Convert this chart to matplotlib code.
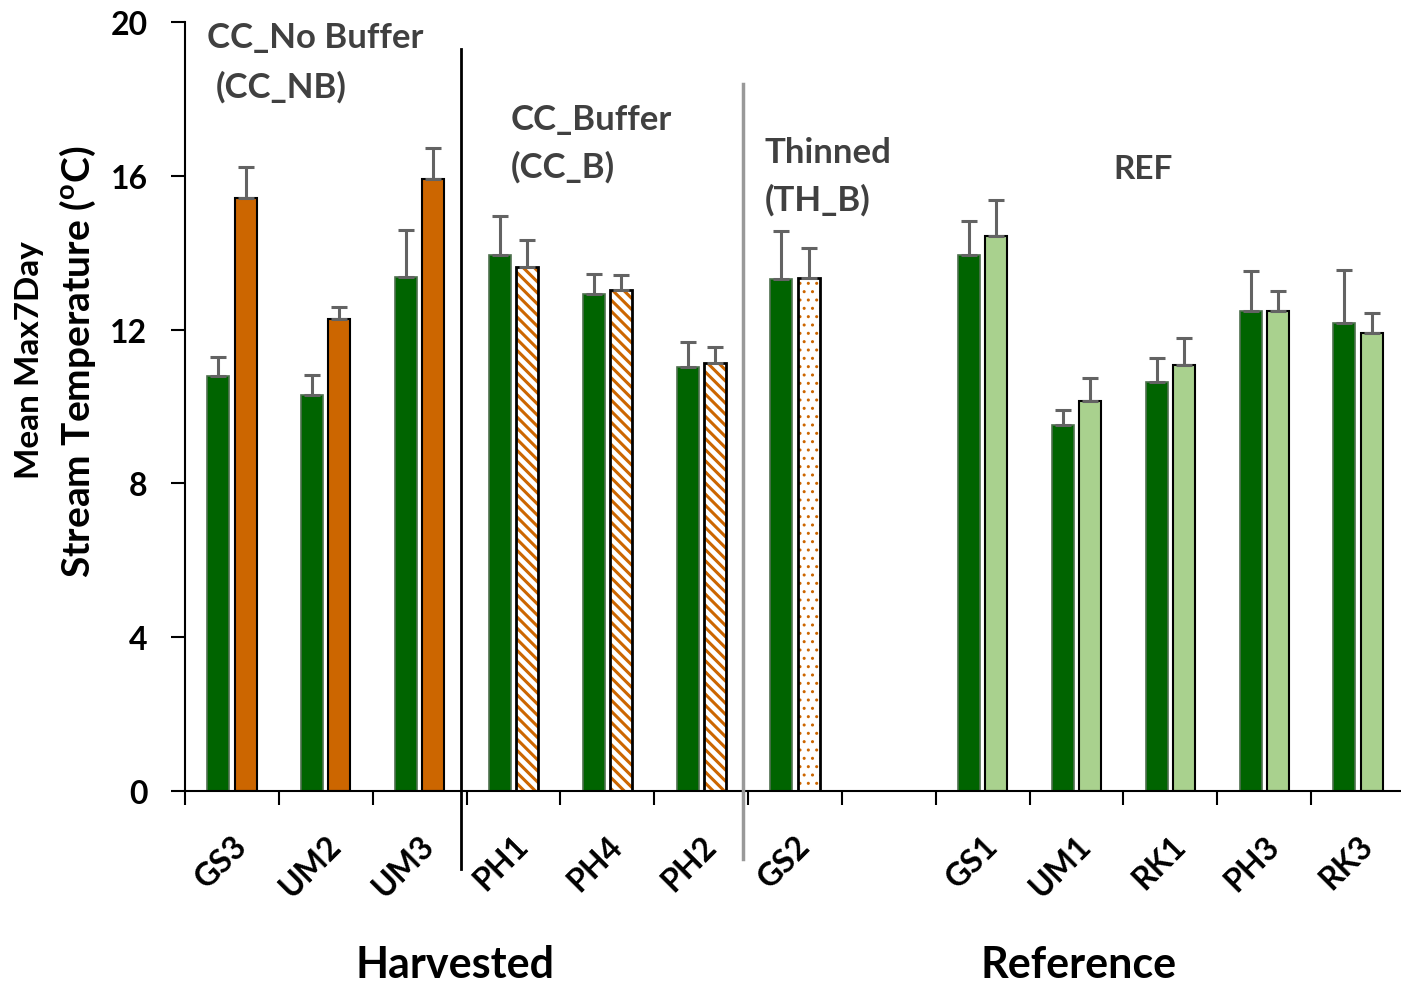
import numpy as np
import matplotlib
matplotlib.use("Agg")
import matplotlib.pyplot as plt

plt.rcParams['font.family'] = ['Lato', 'DejaVu Sans']
plt.rcParams['font.weight'] = 'bold'
plt.rcParams['mathtext.fontset'] = 'custom'
plt.rcParams['mathtext.rm'] = 'Lato:bold'
plt.rcParams['mathtext.bf'] = 'Lato:bold'

# Data
sites = ["GS3", "UM2", "UM3", "PH1", "PH4", "PH2", "GS2", "", "GS1", "UM1", "RK1", "PH3", "RK3"]
pre_vals = [10.79, 10.30, 13.37, 13.94, 12.93, 11.03, 13.32, np.nan, 13.94, 9.52, 10.64, 12.48, 12.17]
pre_err = [0.50, 0.52, 1.22, 1.01, 0.52, 0.65, 1.24, np.nan, 0.88, 0.39, 0.62, 1.04, 1.38]
post_vals = [15.42, 12.28, 15.92, 13.63, 13.03, 11.13, 13.34, np.nan, 14.43, 10.14, 11.08, 12.48, 11.91]
post_err = [0.81, 0.31, 0.80, 0.70, 0.39, 0.42, 0.78, np.nan, 0.94, 0.60, 0.70, 0.52, 0.52]
post_type = ["nb", "nb", "nb", "b", "b", "b", "th", "", "ref", "ref", "ref", "ref", "ref"]

yticks = [0, 4, 8, 12, 16, 20]

DARK = "#006400"
ORANGE = "#CC6600"
LIGHT = "#A9D18E"
ERRC = "#636363"

fig = plt.figure(figsize=(14.01, 9.87), dpi=100)
ax = fig.add_axes([185 / 1401, (987 - 792) / 987, 1220 / 1401, 769 / 987])

x = np.arange(len(sites))
w = 0.235
off = 0.145

pre = np.array(pre_vals)
post = np.array(post_vals)
ek = dict(ecolor=ERRC, elinewidth=2.2, capsize=5.5, capthick=2.2)

m = ~np.isnan(pre)
ax.bar(x[m] - off, pre[m], w, color=DARK, edgecolor="#4f714f", linewidth=1.2,
       yerr=[np.zeros(m.sum()), np.array(pre_err)[m]], error_kw=ek, zorder=2)

for i, t in enumerate(post_type):
    if not t:
        continue
    xi = x[i] + off
    v = post[i]
    e = post_err[i]
    if t == "nb":
        ax.bar(xi, v, w, color=ORANGE, edgecolor="black", linewidth=1.5,
               yerr=[[0], [e]], error_kw=ek, zorder=2)
    elif t == "ref":
        ax.bar(xi, v, w, color=LIGHT, edgecolor="black", linewidth=1.5,
               yerr=[[0], [e]], error_kw=ek, zorder=2)
    elif t == "b":
        with plt.rc_context({'hatch.linewidth': 2.2}):
            ax.bar(xi, v, w, color="white", edgecolor=ORANGE, hatch="\\\\\\",
                   linewidth=0, zorder=2)
        ax.bar(xi, v, w, fill=False, edgecolor="black", linewidth=2,
               yerr=[[0], [e]], error_kw=ek, zorder=3)
    elif t == "th":
        with plt.rc_context({'hatch.linewidth': 1.0}):
            ax.bar(xi, v, w, color="white", edgecolor=ORANGE, hatch="..",
                   linewidth=0, zorder=2)
        ax.bar(xi, v, w, fill=False, edgecolor="black", linewidth=2,
               yerr=[[0], [e]], error_kw=ek, zorder=3)

ax.set_xlim(-0.5, len(sites) - 0.5)
ax.set_ylim(0, 20)
ax.set_yticks(yticks)
ax.set_yticklabels([str(t) for t in yticks], fontsize=23, fontweight='bold')
ax.tick_params(axis='y', direction='out', length=10, width=1.5, pad=17)

ax.set_xticks(x)
ax.set_xticklabels(sites, rotation=45, ha='right', va='top', rotation_mode='anchor',
                   fontsize=23, fontweight='bold')
ax.tick_params(axis='x', which='major', length=0, pad=28)
ax.set_xticks(np.arange(-0.5, len(sites) + 0.5, 1), minor=True)
ax.tick_params(axis='x', which='minor', direction='out', length=10, width=1.5)

for s in ['top', 'right']:
    ax.spines[s].set_visible(False)
ax.spines['left'].set_linewidth(1.5)
ax.spines['bottom'].set_linewidth(1.5)

# Divider lines
ax.plot([2.44, 2.44], [-2.03, 19.3], color='black', lw=2, clip_on=False, zorder=4)
ax.plot([5.445, 5.445], [-1.77, 18.39], color='#999999', lw=2.5, clip_on=False, zorder=4)

tc = "#404040"
fs = 25
ax.text(-0.266, 19.6, "CC_No Buffer", color=tc, fontsize=fs, fontweight='bold', ha='left', va='center')
ax.text(-0.17, 18.34, "(CC_NB)", color=tc, fontsize=fs, fontweight='bold', ha='left', va='center')
ax.text(2.974, 17.48, "CC_Buffer", color=tc, fontsize=fs, fontweight='bold', ha='left', va='center')
ax.text(2.974, 16.25, "(CC_B)", color=tc, fontsize=fs, fontweight='bold', ha='left', va='center')
ax.text(5.68, 16.62, "Thinned", color=tc, fontsize=fs, fontweight='bold', ha='left', va='center')
ax.text(5.68, 15.40, "(TH_B)", color=tc, fontsize=fs, fontweight='bold', ha='left', va='center')
ax.text(9.708, 16.18, "REF", color=tc, fontsize=fs - 1, fontweight='bold', ha='center', va='center')

fig.text(455 / 1401, 1 - 965 / 987, "Harvested", fontsize=31, fontweight='bold', ha='center', va='center')
fig.text(1079 / 1401, 1 - 965 / 987, "Reference", fontsize=31, fontweight='bold', ha='center', va='center')

fig.text(29 / 1401, 1 - 360 / 987, "Mean Max7Day", fontsize=24, fontweight='bold',
         rotation=90, ha='center', va='center')
fig.text(78 / 1401, 1 - 362 / 987, r"Stream Temperature ($^{\mathbf{o}}$C)", fontsize=28,
         fontweight='bold', rotation=90, ha='center', va='center')

fig.savefig("out.png", dpi=100)
